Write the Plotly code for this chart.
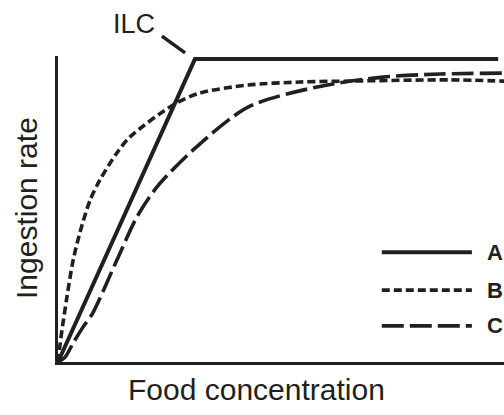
import plotly.graph_objects as go

# Food concentration (x) and ingestion rate (y), arbitrary units 0-100
a_x = [0, 30.7, 98.7]
a_y = [0, 99.0, 99.0]

b_x = [0, 0.45, 0.9, 2.0, 3.4, 4.9, 7.2, 9.4, 13.2, 16.1, 25.8, 31.8, 42.6, 54.3, 65.5, 87.9, 100]
b_y = [0, 5.6, 10.5, 21.2, 33.3, 42.2, 52.9, 59.5, 68.3, 73.5, 84.0, 87.9, 90.5, 91.5, 91.8, 92.2, 91.8]

c_x = [0, 1.6, 3.4, 5.6, 7.8, 13.2, 17.7, 22.2, 30.3, 42.6, 58.1, 72.9, 85.7, 100]
c_y = [0, 1.6, 6.2, 11.4, 16.0, 33.3, 47.4, 57.2, 69.3, 83.3, 89.9, 93.1, 94.1, 94.4]

series_names = ["A", "B", "C"]
ink = "#231f20"
dashes = ["solid", "8px,4px", "22px,6px"]

fig = go.Figure()
for xs, ys, dash, shape in [(a_x, a_y, dashes[0], "linear"),
                            (b_x, b_y, dashes[1], "spline"),
                            (c_x, c_y, dashes[2], "spline")]:
    fig.add_trace(go.Scatter(
        x=xs, y=ys, mode="lines", showlegend=False, hoverinfo="skip",
        line=dict(color=ink, width=4 if dash == "solid" else 3.6,
                  dash=dash, shape=shape, smoothing=0.8),
    ))

# Hand-drawn style legend: long sample lines with bold letters
legend_y = [0.359, 0.235, 0.118]
shapes = []
annotations = []
for name, dash, ly in zip(series_names, dashes, legend_y):
    shapes.append(dict(type="line", xref="paper", yref="paper",
                       x0=0.726, x1=0.928, y0=ly, y1=ly,
                       line=dict(color=ink, width=4 if dash == "solid" else 3.6, dash=dash)))
    annotations.append(dict(text=name, xref="paper", yref="paper",
                            x=0.957, y=ly, xanchor="left", yanchor="middle",
                            showarrow=False,
                            font=dict(family="Liberation Sans", size=22, color=ink, weight="bold")))

# ILC label with its pointer stroke
shapes.append(dict(type="line", xref="paper", yref="paper",
                   x0=0.233, y0=1.065, x1=0.285, y1=1.010,
                   line=dict(color=ink, width=3.5)))
annotations.append(dict(text="ILC", xref="paper", yref="paper",
                        x=0.1715, y=1.105, xanchor="center", yanchor="middle",
                        showarrow=False,
                        font=dict(family="Liberation Sans", size=27, color=ink)))

# Axis titles
annotations.append(dict(text="Food concentration", xref="paper", yref="paper",
                        x=0.446, y=-0.09, xanchor="center", yanchor="middle",
                        showarrow=False,
                        font=dict(family="Liberation Sans", size=30, color=ink)))
annotations.append(dict(text="Ingestion rate", xref="paper", yref="paper",
                        x=-0.072, y=0.503, xanchor="center", yanchor="middle",
                        textangle=-90, showarrow=False,
                        font=dict(family="Liberation Sans", size=30, color=ink)))

fig.update_layout(
    width=504, height=415,
    margin=dict(l=58, r=0, t=56, b=53),
    paper_bgcolor="white", plot_bgcolor="white",
    shapes=shapes, annotations=annotations,
    xaxis=dict(range=[0, 100], showline=True, linecolor=ink, linewidth=2.5,
               showticklabels=False, ticks="", showgrid=False, zeroline=False),
    yaxis=dict(range=[0, 100], showline=True, linecolor=ink, linewidth=2.5,
               showticklabels=False, ticks="", showgrid=False, zeroline=False),
)

fig.write_html("out.html")
